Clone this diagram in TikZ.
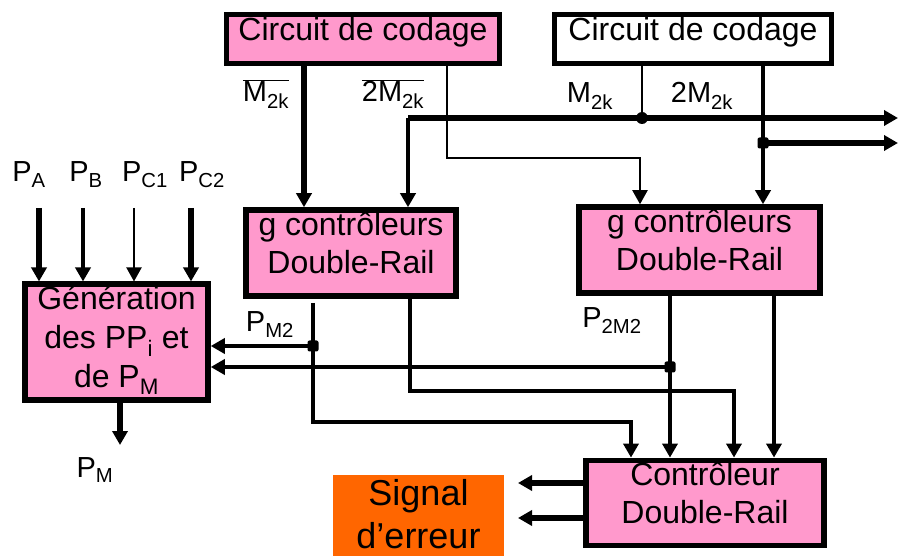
\documentclass[tikz,border=0pt]{standalone}
\usepackage{fontspec}
\setmainfont{Liberation Sans}
\usetikzlibrary{arrows.meta}
\definecolor{rose}{RGB}{255,153,204}
\definecolor{orangesig}{RGB}{255,102,0}

\begin{document}
\begin{tikzpicture}[x=1pt,y=-1pt,
  bloc/.style={draw,line width=5.5pt,fill=rose,align=center,inner sep=2pt,
    text depth=20pt,font=\fontsize{32}{38}\selectfont},
  etiq/.style={anchor=base,inner sep=0pt,font=\fontsize{29}{34}\selectfont},
  fl/.style={-{Triangle[length=14pt,width=15pt]}},
  lf/.style={line width=5.5pt},
  lm/.style={line width=3.5pt},
  lt/.style={line width=2pt},
  jonc/.style={circle,fill,inner sep=0pt,minimum size=12pt},
  joncc/.style={rectangle,rounded corners=2pt,fill,inner sep=0pt,minimum size=11pt}]
\useasboundingbox (0,0) rectangle (898,556);

% les blocs
\node[bloc,minimum width=273pt,minimum height=49pt] (cod1) at (363,39) {Circuit de codage};
\node[bloc,fill=white,line width=4.5pt,minimum width=277pt,minimum height=49pt] (cod2) at (693,39) {Circuit de codage};
\node[bloc,text depth=10pt,font=\fontsize{32}{39}\selectfont,minimum width=183pt,minimum height=114pt] (gen) at (116.5,342) {Génération\\des PP\textsubscript{i} et\\de P\textsubscript{M}};
\node[bloc,minimum width=210pt,minimum height=86pt] (g1) at (351,253) {g contrôleurs\\Double-Rail};
\node[bloc,minimum width=241pt,minimum height=86pt] (g2) at (699.5,250) {g contrôleurs\\Double-Rail};
\node[bloc,minimum width=238pt,minimum height=84pt] (ctrl) at (705,503) {Contrôleur\\Double-Rail};
\node[fill=orangesig,align=center,inner sep=0pt,text depth=4pt,minimum width=171pt,minimum height=81pt,
  font=\fontsize{36}{43}\selectfont] (sig) at (418.5,515.5) {Signal\\d’erreur};

% les etiquettes
\node[etiq] (m1) at (266,102) {$\overline{\mbox{M\textsubscript{2k}}}$};
\node[etiq] (m2) at (393,102) {$\overline{\mbox{2M\textsubscript{2k}}}$};
\node[etiq] (m3) at (590,103) {M\textsubscript{2k}};
\node[etiq] (m4) at (702,103) {2M\textsubscript{2k}};
\node[etiq] (pa) at (29,182) {P\textsubscript{A}};
\node[etiq] (pb) at (86,182) {P\textsubscript{B}};
\node[etiq] (pc1) at (145,182) {P\textsubscript{C1}};
\node[etiq] (pc2) at (202,182) {P\textsubscript{C2}};
\node[etiq] (pm2) at (270,332) {P\textsubscript{M2}};
\node[etiq] (p2m2) at (612,328) {P\textsubscript{2M2}};
\node[etiq] (pm) at (95,477) {P\textsubscript{M}};

% points d'entree et coudes
\coordinate (g1a) at ([xshift=-47pt]g1.north);
\coordinate (g1b) at ([xshift=57pt]g1.north);
\coordinate (g2a) at ([xshift=-59.5pt]g2.north);
\coordinate (g2b) at ([xshift=63.5pt]g2.north);
\coordinate (ca) at ([xshift=-74pt]ctrl.north);
\coordinate (cb) at ([xshift=-35pt]ctrl.north);
\coordinate (cc) at ([xshift=29pt]ctrl.north);
\coordinate (cd) at ([xshift=69pt]ctrl.north);
\coordinate (j1) at (642,118);
\coordinate (j2) at (763,143);
\coordinate (j3) at (313,346);
\coordinate (j4) at (670,367);
\coordinate (k1) at (447,158);
\coordinate (k2) at (313,422);
\coordinate (k3) at (410,391);
\coordinate (s1) at (313,303);
\coordinate (o1) at (898,118);
\coordinate (o2) at (898,143);
\coordinate (ia) at (39,208);
\coordinate (ib) at (83,208);
\coordinate (ic) at (134,208);
\coordinate (id) at (191,208);
\coordinate (om) at (120,445);
\coordinate (e1) at (518,483);
\coordinate (e2) at (518,518);

% circuits de codage
\draw[line width=6pt,fl] (cod1.south -| g1a) -- (g1a);
\draw[lt,fl] (cod1.south -| k1) -- (k1) -| (g2a);
\draw[lf,fl] (g1b |- j1) -- (o1);
\draw[lm,fl] (g1b |- j1) -- (g1b);
\draw[lt] (cod2.south -| j1) -- (j1);
\draw[lm,fl] (cod2.south -| g2b) -- (g2b);
\draw[lf,fl] (j2) -- (o2);

% entrees
\draw[lf,fl] (ia) -- (ia |- gen.north);
\draw[lm,fl] (ib) -- (ib |- gen.north);
\draw[lt,fl] (ic) -- (ic |- gen.north);
\draw[lf,fl] (id) -- (id |- gen.north);
\draw[lf,fl] (gen.south -| om) -- (om);

% sorties des controleurs
\draw[line width=4.5pt,fl] (s1) -- (k2) -| (ca);
\draw[lm,fl] (g1.south -| k3) -- (k3) -| (cc);
\draw[lm,fl] (j3) -- (j3 -| gen.east);
\draw[lm,fl] (g2.south -| cb) -- (cb);
\draw[lm,fl] (g2.south -| cd) -- (cd);
\draw[lm,fl] (j4) -- (j4 -| gen.east);

% signal d'erreur
\draw[lf,fl] (ctrl.west |- e1) -- (e1);
\draw[lf,fl] (ctrl.west |- e2) -- (e2);

% jonctions
\node[jonc] (d1) at (j1) {};
\node[joncc] (d2) at (j2) {};
\node[joncc] (d3) at (j3) {};
\node[joncc] (d4) at (j4) {};
\end{tikzpicture}
\end{document}
